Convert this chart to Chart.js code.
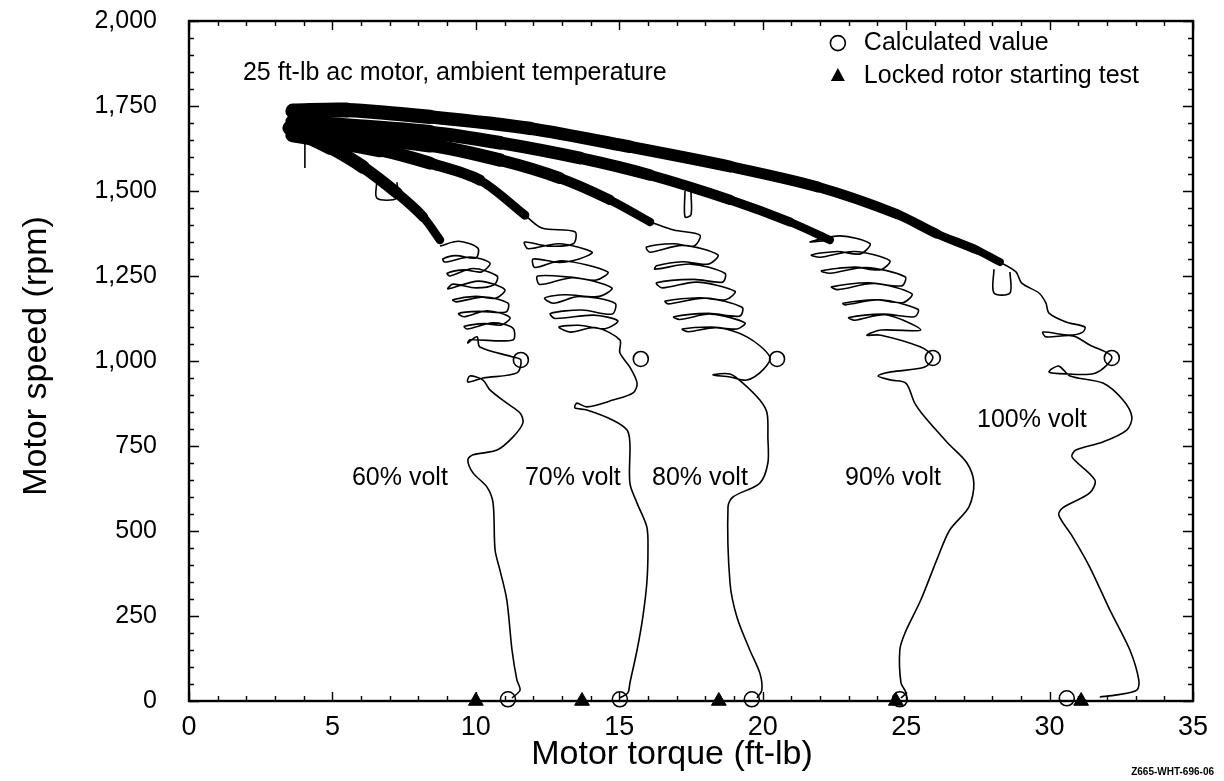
<!DOCTYPE html>
<html>
<head>
<meta charset="utf-8">
<script src="https://cdn.jsdelivr.net/npm/chart.js@4.4.0/dist/chart.umd.min.js"></script>
<style>
  html, body { margin: 0; padding: 0; background: #fff; }
</style>
</head>
<body>
<canvas id="myChart" width="1224" height="781"></canvas>
<script>
// --- DATA (torque ft-lb, speed rpm) ---
// thick noisy bands at the top of each run
const band100 = [[3.62, 1735], [5.5, 1738], [8.4, 1718], [11.89, 1684], [15.37, 1630], [18.86, 1572], [21.92, 1512], [24.68, 1432], [26.07, 1374], [27.47, 1326], [28.27, 1291]];
const band90 = [[3.62, 1703], [8.4, 1672], [10.84, 1642], [13.63, 1597], [16.07, 1547], [18.86, 1474], [20.95, 1409], [22.34, 1356]];
const band80 = [[3.62, 1679], [8.4, 1635], [10.84, 1591], [12.93, 1538], [14.67, 1474], [16.07, 1409]];
const band70 = [[3.62, 1665], [6.66, 1621], [8.4, 1582], [10.14, 1532], [11.71, 1429]];
const band60 = [[3.52, 1685], [4.91, 1629], [6.06, 1571], [7.25, 1494], [8.16, 1424], [8.75, 1356]];

// looping part + single run down to locked rotor
const trace60 = [
  [8.75, 1338], [9.4, 1352], [10.07, 1332], [10.0, 1303], [9.3, 1310], [8.85, 1300],
  [8.92, 1291], [9.8, 1306], [10.49, 1288], [10.2, 1262], [9.6, 1268], [9.0, 1258],
  [9.1, 1250], [9.9, 1272], [10.74, 1250], [10.65, 1225], [10.0, 1215], [9.2, 1226],
  [9.03, 1212], [10.1, 1235], [11.01, 1210], [10.7, 1185], [10.0, 1190], [9.2, 1180],
  [9.31, 1174], [10.3, 1188], [11.12, 1170], [11.05, 1144], [10.1, 1146], [9.4, 1140],
  [9.6, 1130], [10.4, 1148], [11.19, 1128], [10.9, 1106], [10.3, 1110], [9.6, 1102],
  [9.69, 1094], [10.6, 1112], [11.29, 1097], [11.29, 1062],
  [9.79, 1062], [9.72, 1053], [10.04, 1071], [10.14, 1041], [11.29, 1012], [11.57, 1003], [11.43, 965], [10.25, 950], [9.72, 938], [9.79, 956], [10.25, 944], [10.49, 915], [11.08, 876], [11.54, 847], [11.64, 818], [11.29, 776], [10.74, 738], [9.9, 724], [9.72, 709], [9.9, 671], [10.39, 629], [10.6, 582], [10.67, 444], [10.84, 385], [11.08, 297], [11.26, 150], [11.43, 62], [11.54, 32], [11.26, 9]];
const trace70 = [
  [11.71, 1429], [12.3, 1391], [13.45, 1380], [13.4, 1345], [12.5, 1338], [11.7, 1350],
  [11.82, 1330], [12.9, 1345], [14.05, 1320], [13.6, 1300], [12.9, 1290], [12.0, 1300],
  [12.06, 1275], [13.0, 1295], [14.6, 1262], [14.2, 1238], [13.5, 1245], [12.15, 1250],
  [12.23, 1225], [13.4, 1245], [14.74, 1215], [14.3, 1190], [13.1, 1195], [12.4, 1185],
  [12.7, 1170], [13.6, 1190], [14.85, 1170], [14.75, 1138], [13.7, 1150], [12.6, 1140],
  [12.76, 1125], [14.1, 1135], [14.95, 1118], [14.5, 1095], [13.6, 1105], [12.9, 1100],
  [13.3, 1085], [14.2, 1098], [15.02, 1062],
  [15.02, 1024], [15.37, 982], [15.62, 935], [15.48, 906], [14.78, 885], [13.87, 865], [13.52, 876], [13.45, 862], [13.87, 856], [14.78, 826], [15.27, 797], [15.37, 759], [15.37, 641], [15.62, 582], [15.96, 512], [16.0, 444], [15.96, 347], [15.82, 247], [15.62, 150], [15.37, 53], [15.3, 24], [15.02, 9]];
const trace80 = [
  [16.07, 1409], [16.9, 1385], [17.81, 1370], [17.6, 1338], [16.9, 1345], [15.95, 1335],
  [16.07, 1320], [17.2, 1340], [18.44, 1312], [18.1, 1285], [17.2, 1292], [16.3, 1280],
  [16.24, 1270], [17.5, 1285], [18.68, 1258], [18.6, 1232], [17.6, 1240], [16.3, 1230],
  [16.5, 1215], [17.7, 1232], [19.03, 1205], [18.7, 1180], [17.8, 1186], [16.6, 1176],
  [16.7, 1168], [18.0, 1185], [19.28, 1158], [19.2, 1132], [18.1, 1140], [16.9, 1130],
  [17.1, 1122], [18.2, 1138], [19.38, 1112], [19.1, 1094], [18.2, 1100], [17.2, 1094],
  [17.4, 1086], [18.4, 1098], [19.45, 1071],
  [20.25, 1012], [20.01, 974], [19.45, 944], [18.86, 953], [18.26, 959], [18.86, 962], [19.31, 935], [19.9, 885], [20.15, 847], [20.18, 776], [20.18, 700], [19.9, 641], [18.96, 600], [18.79, 571], [18.86, 347], [19.1, 247], [19.55, 150], [19.9, 82], [19.97, 32], [19.8, 9]];
const trace90 = [
  [22.34, 1356], [21.65, 1350], [22.7, 1368], [23.74, 1345], [23.4, 1315], [22.6, 1322], [21.7, 1312],
  [21.99, 1305], [23.2, 1322], [24.43, 1295], [24.1, 1268], [23.2, 1276], [22.05, 1265],
  [22.34, 1258], [23.6, 1275], [24.96, 1248], [24.85, 1221], [23.7, 1230], [22.4, 1218],
  [22.62, 1210], [23.9, 1228], [25.2, 1198], [24.9, 1172], [23.9, 1180], [22.8, 1170],
  [22.87, 1165], [24.1, 1180], [25.41, 1152], [25.3, 1130], [24.2, 1138], [23.0, 1128],
  [23.2, 1120], [24.3, 1136], [25.51, 1091],
  [24.12, 1091], [23.63, 1076], [24.12, 1076], [25.51, 1041], [25.93, 1012], [25.65, 982], [24.47, 968], [24.02, 956], [24.47, 944], [24.99, 935], [25.3, 876], [25.65, 835], [26.45, 759], [27.12, 700], [27.36, 641], [27.19, 571], [26.52, 503], [26.11, 424], [25.51, 297], [24.96, 200], [24.78, 150], [24.82, 53], [24.99, 24], [24.82, 9]];
const trace100 = [[28.27, 1291], [28.83, 1262], [29.03, 1229], [29.63, 1200], [29.87, 1171], [29.98, 1141], [30.57, 1115], [31.23, 1100], [31.16, 1085], [30.71, 1076], [29.77, 1085], [29.87, 1071], [30.81, 1074], [31.4, 1047], [32.17, 1012], [31.61, 965], [30.57, 962], [29.98, 968], [30.32, 985], [30.71, 956], [31.86, 935], [32.56, 885], [32.87, 835], [32.69, 797], [31.86, 762], [30.92, 738], [30.78, 718], [31.58, 650], [31.4, 612], [30.46, 568], [30.32, 547], [30.81, 482], [31.4, 394], [32.1, 268], [32.8, 150], [33.11, 62], [33.04, 32], [32.35, 18], [31.75, 12]];

// small glitches in the recordings
const glitches = [
  [[4.04, 1660], [4.04, 1568]],
  [[6.55, 1530], [6.55, 1479], [7.25, 1479], [7.25, 1526]],
  [[17.29, 1500], [17.29, 1424], [17.5, 1430], [17.5, 1497]],
  [[28.06, 1270], [28.06, 1200], [28.62, 1200], [28.62, 1262]],
];

// markers
const calculated = [[11.57, 1003], [15.75, 1006], [20.5, 1006], [25.93, 1009], [32.17, 1009], [11.12, 5], [15.02, 5], [19.62, 5], [24.78, 5], [30.6, 8]];
const lockedRotor = [[10.0, 0], [13.7, 0], [18.47, 0], [24.64, 0], [31.1, 0]];

// text
const voltLabels = ["60% volt", "70% volt", "80% volt", "90% volt", "100% volt"];
const noteText = "25 ft-lb ac motor, ambient temperature";
const legendText = ["Calculated value", "Locked rotor starting test"];
const xTitle = "Motor torque (ft-lb)";
const yTitle = "Motor speed (rpm)";
// ---------------------------------

const FONT = "'Liberation Sans', Arial, Helvetica, sans-serif";
Chart.defaults.font.family = FONT;
Chart.defaults.color = "#000";

const toXY = (pts) => pts.map(([x, y]) => ({ x, y }));

// --- thick band, narrowing toward its end ---
const bandSet = (pts) => ({
  data: toXY(pts),
  showLine: true,
  borderColor: "#000",
  borderWidth: 12,
  borderCapStyle: "round",
  borderJoinStyle: "round",
  pointRadius: 0,
  tension: 0.3,
  segment: {
    borderWidth: (ctx) => 15 - 8 * (ctx.p0DataIndex / (pts.length - 1)),
  },
});

const traceSet = (pts) => ({
  data: toXY(pts),
  showLine: true,
  borderColor: "#000",
  borderWidth: 1.6,
  borderJoinStyle: "round",
  pointRadius: 0,
  tension: 0.3,
});

// --- PLUGIN: frame with inward ticks on all four sides ---
const frameTicks = {
  id: "frameTicks",
  afterDraw(chart) {
    const { ctx, chartArea: { left, right, top, bottom }, scales: { x, y } } = chart;
    ctx.save();
    ctx.strokeStyle = "#000";
    ctx.lineWidth = 1.4;
    ctx.beginPath();
    for (let v = 0; v <= 35; v++) {
      const px = Math.round(x.getPixelForValue(v)) + 0.5;
      const len = v % 5 === 0 ? 9 : 5;
      ctx.moveTo(px, bottom); ctx.lineTo(px, bottom - len);
      ctx.moveTo(px, top); ctx.lineTo(px, top + len);
    }
    for (let v = 0; v <= 2000; v += 50) {
      const py = Math.round(y.getPixelForValue(v)) + 0.5;
      const len = v % 250 === 0 ? 10 : 5;
      ctx.moveTo(left, py); ctx.lineTo(left + len, py);
      ctx.moveTo(right, py); ctx.lineTo(right - len, py);
    }
    ctx.stroke();
    ctx.lineWidth = 2.4;
    ctx.strokeRect(left, top, right - left, bottom - top);
    ctx.restore();
  },
};

// --- PLUGIN: axis titles, annotations and legend ---
const notes = {
  id: "notes",
  afterDatasetsDraw(chart, args, options) {
    const { ctx, scales: { x, y } } = chart;
    ctx.save();
    ctx.fillStyle = "#000";
    ctx.textBaseline = "middle";

    // axis titles
    ctx.font = `34px ${FONT}`;
    ctx.textAlign = "center";
    ctx.fillText(xTitle, options.xTitlePos[0], options.xTitlePos[1]);
    ctx.save();
    ctx.translate(options.yTitlePos[0], options.yTitlePos[1]);
    ctx.rotate(-Math.PI / 2);
    ctx.fillText(yTitle, 0, 0);
    ctx.restore();

    ctx.textAlign = "left";
    ctx.font = `25px ${FONT}`;
    ctx.fillText(noteText, x.getPixelForValue(options.notePos[0]), y.getPixelForValue(options.notePos[1]));
    voltLabels.forEach((t, i) => {
      const [vx, vy] = options.voltPos[i];
      ctx.fillText(t, x.getPixelForValue(vx), y.getPixelForValue(vy));
    });

    // legend
    const lx = x.getPixelForValue(options.legendPos[0]);
    const ly0 = y.getPixelForValue(options.legendPos[1]);
    const ly1 = y.getPixelForValue(options.legendPos[2]);
    ctx.lineWidth = 1.6;
    ctx.strokeStyle = "#000";
    ctx.beginPath();
    ctx.arc(lx, ly0, 7.5, 0, Math.PI * 2);
    ctx.stroke();
    ctx.beginPath();
    ctx.moveTo(lx, ly1 - 8);
    ctx.lineTo(lx + 7, ly1 + 5);
    ctx.lineTo(lx - 7, ly1 + 5);
    ctx.closePath();
    ctx.fill();
    ctx.fillText(legendText[0], lx + 26, ly0);
    ctx.fillText(legendText[1], lx + 26, ly1);

    // figure id
    ctx.font = `bold 10px ${FONT}`;
    ctx.textAlign = "right";
    ctx.fillText("Z665-WHT-696-06", 1214, 772);
    ctx.restore();
  },
};

const datasets = [
  bandSet(band100), bandSet(band90), bandSet(band80), bandSet(band70), bandSet(band60),
  traceSet(trace60), traceSet(trace70), traceSet(trace80), traceSet(trace90), traceSet(trace100),
  ...glitches.map(traceSet),
  {
    data: toXY(calculated),
    pointStyle: "circle",
    pointRadius: 7.5,
    pointBorderWidth: 1.6,
    pointBorderColor: "#000",
    pointBackgroundColor: "rgba(0,0,0,0)",
    clip: false,
  },
  {
    data: toXY(lockedRotor),
    pointStyle: "triangle",
    pointRadius: 8.5,
    pointBorderWidth: 1,
    pointBorderColor: "#000",
    pointBackgroundColor: "#000",
    clip: false,
  },
];

const myChart = new Chart(document.getElementById("myChart"), {
  type: "scatter",
  data: { datasets },
  options: {
    responsive: false,
    animation: false,
    devicePixelRatio: 1,
    layout: { padding: { top: 21, right: 31, left: 0, bottom: 0 } },
    plugins: {
      legend: { display: false },
      tooltip: { enabled: false },
      notes: {
        xTitlePos: [672, 755],
        yTitlePos: [37, 356],
        notePos: [1.88, 1847],
        voltPos: [[5.68, 656], [11.71, 656], [16.14, 656], [22.87, 656], [27.47, 826]],
        legendPos: [22.62, 1935, 1838],
      },
    },
    scales: {
      x: {
        type: "linear",
        min: 0,
        max: 35,
        grid: { display: false, drawTicks: false },
        border: { display: false },
        ticks: { stepSize: 5, padding: 10, font: { size: 27 }, color: "#000" },
        afterFit: (scale) => { scale.height = 80; },
      },
      y: {
        type: "linear",
        min: 0,
        max: 2000,
        grid: { display: false, drawTicks: false },
        border: { display: false },
        ticks: {
          stepSize: 250,
          padding: 32,
          font: { size: 25 },
          color: "#000",
          callback: (v) => v.toLocaleString("en-US"),
        },
        afterFit: (scale) => {
          scale.width = 189;
          // tick padding is also added above/below the axis; drop it
          scale.paddingTop = 0;
          scale.paddingBottom = 0;
        },
      },
    },
  },
  plugins: [frameTicks, notes],
});
</script>
</body>
</html>
